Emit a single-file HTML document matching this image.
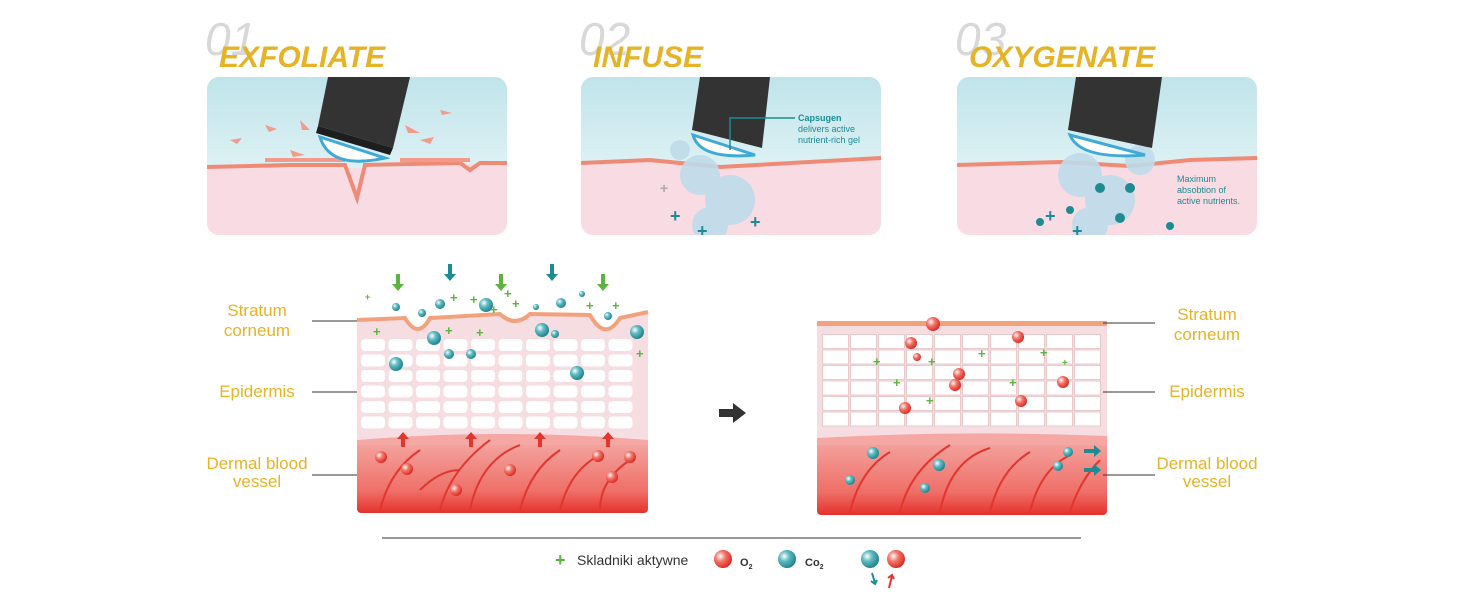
<!DOCTYPE html>
<html><head><meta charset="utf-8"><style>
html,body{margin:0;padding:0;background:#fff;}
body{width:1464px;height:600px;overflow:hidden;font-family:"Liberation Sans",sans-serif;}
</style></head><body>
<svg width="1464" height="600" viewBox="0 0 1464 600" xmlns="http://www.w3.org/2000/svg">
<defs>
<linearGradient id="sky" x1="0" y1="0" x2="0" y2="1"><stop offset="0" stop-color="#bfe4ea"/><stop offset="1" stop-color="#f4fbfc"/></linearGradient>
<linearGradient id="derm" x1="0" y1="0" x2="0" y2="1"><stop offset="0" stop-color="#f4a7a3"/><stop offset="0.7" stop-color="#ef6f68"/><stop offset="1" stop-color="#e5312c"/></linearGradient>
<radialGradient id="red" cx="0.35" cy="0.35" r="0.7"><stop offset="0" stop-color="#fff"/><stop offset="0.4" stop-color="#f4786c"/><stop offset="1" stop-color="#d9251c"/></radialGradient>
<radialGradient id="teal" cx="0.35" cy="0.35" r="0.7"><stop offset="0" stop-color="#fff"/><stop offset="0.4" stop-color="#5fbcc3"/><stop offset="1" stop-color="#1c7f89"/></radialGradient>
<pattern id="cells" x="360" y="338" width="27.5" height="15.5" patternUnits="userSpaceOnUse"><rect x="1" y="1" width="24" height="12" rx="4" fill="#fff"/></pattern>
<pattern id="grid" x="822" y="334" width="28" height="15.5" patternUnits="userSpaceOnUse"><rect x="0.5" y="0.5" width="26" height="14" fill="#fff" stroke="#e8c9cc"/></pattern>
<clipPath id="p1"><rect x="207" y="77" width="300" height="158" rx="12"/></clipPath>
<clipPath id="p2"><rect x="581" y="77" width="300" height="158" rx="12"/></clipPath>
<clipPath id="p3"><rect x="957" y="77" width="300" height="158" rx="12"/></clipPath>
</defs>

<!-- headers -->
<g font-family="Liberation Sans" font-style="italic">
<text x="205" y="55" font-size="46" fill="#d8d8d8" font-weight="300">01</text>
<text x="579" y="55" font-size="46" fill="#d8d8d8">02</text>
<text x="955" y="55" font-size="46" fill="#d8d8d8">03</text>
<g font-weight="bold" font-size="30" fill="#e5b325">
<text x="219" y="67">EXFOLIATE</text>
<text x="593" y="67">INFUSE</text>
<text x="969" y="67">OXYGENATE</text>
</g></g>

<!-- panel 1 -->
<g clip-path="url(#p1)">
<rect x="207" y="77" width="300" height="158" fill="url(#sky)"/>
<path d="M207 167 L290 165 L360 168 L500 163 L507 163 L507 235 L207 235Z" fill="#f8dbe3"/>
<path d="M207 167 L290 165 L345 165 L357 198 L365 165 L460 163 L470 170 L480 163 L507 163" fill="none" stroke="#ef8a76" stroke-width="4"/>
<g fill="#f39b8a"><path d="M265 125l12 4-8 3z"/><path d="M230 140l12-2-5 6z"/><path d="M290 150l15 5-12 2z"/><path d="M420 140l14-3-4 7z"/><path d="M440 110l12 3-10 2z"/><path d="M265 158h80v4h-80z"/><path d="M400 158h70v4h-70z"/><path d="M300 120l10 10-8 0z"/><path d="M405 125l15 8-12 0z"/></g>
<polygon points="328,77 410,77 393,148 318,126" fill="#333"/>
<polygon points="318,126 393,148 390,155 316,133" fill="#1e1e1e"/>
<path d="M320 137 Q330 170 385 158 L320 137Z" fill="#fff" stroke="#3fa9d8" stroke-width="3"/>
</g>

<!-- panel 2 -->
<g clip-path="url(#p2)">
<rect x="581" y="77" width="300" height="158" fill="url(#sky)"/>
<path d="M581 163 L650 160 L720 167 L881 158 L881 235 L581 235Z" fill="#f8dbe3"/>
<path d="M581 163 L650 160 L720 167 L881 158" fill="none" stroke="#ef8a76" stroke-width="4"/>
<g fill="#bfdbea" opacity="0.9"><circle cx="700" cy="175" r="20"/><circle cx="730" cy="200" r="25"/><circle cx="710" cy="225" r="18"/><circle cx="680" cy="150" r="10"/></g>
<polygon points="700,77 770,77 762,148 692,130" fill="#333"/>
<path d="M693 135 Q700 160 755 155 L693 135Z" fill="#fff" stroke="#3fa9d8" stroke-width="3"/>
<path d="M730 150 V118 H795" fill="none" stroke="#1d8b92" stroke-width="1.5"/>
<g font-size="9" fill="#1d8b92"><text x="798" y="121" font-weight="bold">Capsugen</text><text x="798" y="132">delivers active</text><text x="798" y="143">nutrient-rich gel</text></g>
<g fill="#1d8b92" font-weight="bold" font-size="18"><text x="670" y="222">+</text><text x="697" y="237">+</text><text x="750" y="228">+</text></g>
<text x="660" y="193" font-size="14" fill="#aaa" font-weight="bold">+</text>
</g>

<!-- panel 3 -->
<g clip-path="url(#p3)">
<rect x="957" y="77" width="300" height="158" fill="url(#sky)"/>
<path d="M957 165 L1060 162 L1130 166 L1190 160 L1257 158 L1257 235 L957 235Z" fill="#f8dbe3"/>
<path d="M957 165 L1060 162 L1130 166 L1190 160 L1257 158" fill="none" stroke="#ef8a76" stroke-width="4"/>
<g fill="#bfdbea" opacity="0.9"><circle cx="1080" cy="175" r="22"/><circle cx="1110" cy="200" r="25"/><circle cx="1090" cy="225" r="18"/><circle cx="1140" cy="160" r="15"/></g>
<polygon points="1076,77 1162,77 1152,148 1068,130" fill="#333"/>
<path d="M1070 135 Q1080 160 1145 155 L1070 135Z" fill="#fff" stroke="#3fa9d8" stroke-width="3"/>
<g fill="#1d8b92"><circle cx="1100" cy="188" r="5"/><circle cx="1130" cy="188" r="5"/><circle cx="1070" cy="210" r="4"/><circle cx="1120" cy="218" r="5"/><circle cx="1170" cy="226" r="4"/><circle cx="1040" cy="222" r="4"/></g>
<g fill="#1d8b92" font-weight="bold" font-size="18"><text x="1045" y="222">+</text><text x="1072" y="237">+</text></g>
<g font-size="9" fill="#1d8b92"><text x="1177" y="182">Maximum</text><text x="1177" y="193">absobtion of</text><text x="1177" y="204">active nutrients.</text></g>
</g>

<!-- left diagram -->
<rect x="357" y="440" width="291" height="73" rx="4" fill="url(#derm)"/>
<path d="M357 440 Q500 428 648 436 L648 445 L357 445Z" fill="#f4a7a3"/>
<path d="M357 320 L405 318 Q418 340 430 318 L500 314 Q515 328 530 314 L590 315 Q605 342 620 318 L648 312 L648 440 Q500 428 357 440Z" fill="#f5dde2"/>
<rect x="360" y="338" width="275" height="93" fill="url(#cells)"/>
<path d="M357 320 L405 318 Q418 340 430 318 L500 314 Q515 328 530 314 L590 315 Q605 342 620 318 L648 312" fill="none" stroke="#f1a17c" stroke-width="4"/>
<g stroke="#e0362e" stroke-width="2" fill="none"><path d="M380 510 Q390 470 420 450"/><path d="M440 510 Q450 470 490 440"/><path d="M470 510 Q480 460 520 445"/><path d="M520 510 Q530 470 560 450"/><path d="M560 510 Q570 470 600 455"/><path d="M600 510 Q600 480 630 460"/><path d="M420 490 Q440 470 460 470"/></g>
<g fill="#e0362e"><path d="M401 447h4v-8h4l-6-7-6 7h4z"/><path d="M469 447h4v-8h4l-6-7-6 7h4z"/><path d="M538 447h4v-8h4l-6-7-6 7h4z"/><path d="M606 447h4v-8h4l-6-7-6 7h4z"/></g>
<g fill="url(#red)"><circle cx="381" cy="457" r="6"/><circle cx="407" cy="469" r="6"/><circle cx="456" cy="490" r="6"/><circle cx="510" cy="470" r="6"/><circle cx="598" cy="456" r="6"/><circle cx="630" cy="457" r="6"/><circle cx="612" cy="477" r="6"/></g>
<g fill="url(#teal)"><circle cx="396" cy="364" r="7"/><circle cx="434" cy="338" r="7"/><circle cx="440" cy="304" r="5"/><circle cx="486" cy="305" r="7"/><circle cx="471" cy="354" r="5"/><circle cx="449" cy="354" r="5"/><circle cx="542" cy="330" r="7"/><circle cx="561" cy="303" r="5"/><circle cx="577" cy="373" r="7"/><circle cx="637" cy="332" r="7"/><circle cx="396" cy="307" r="4"/><circle cx="422" cy="313" r="4"/><circle cx="536" cy="307" r="3"/><circle cx="582" cy="294" r="3"/><circle cx="555" cy="334" r="4"/><circle cx="608" cy="316" r="4"/></g>
<g fill="#1d8b92"><path d="M448 264h4v10h4l-6 7-6-7h4z"/><path d="M550 264h4v10h4l-6 7-6-7h4z"/></g>
<g fill="#5cb33d"><path d="M396 274h4v10h4l-6 7-6-7h4z"/><path d="M499 274h4v10h4l-6 7-6-7h4z"/><path d="M601 274h4v10h4l-6 7-6-7h4z"/></g>
<g fill="#5cb33d" font-weight="bold" font-size="13"><text x="450" y="302">+</text><text x="470" y="304">+</text><text x="504" y="298">+</text><text x="512" y="308">+</text><text x="490" y="314">+</text><text x="586" y="310">+</text><text x="612" y="310">+</text><text x="373" y="336">+</text><text x="445" y="335">+</text><text x="476" y="337">+</text><text x="636" y="358">+</text><text x="365" y="300" font-size="9">+</text></g>

<!-- right diagram -->
<rect x="817" y="438" width="290" height="77" rx="4" fill="url(#derm)"/>
<rect x="817" y="323" width="290" height="118" fill="#f5dde2"/>
<path d="M817 438 Q960 430 1107 436 L1107 445 L817 445Z" fill="#f4a7a3"/>
<rect x="822" y="334" width="280" height="93" fill="url(#grid)"/>
<rect x="817" y="321" width="290" height="5" fill="#f1a17c"/>
<g stroke="#e0362e" stroke-width="2" fill="none"><path d="M850 512 Q860 470 890 452"/><path d="M900 512 Q910 470 950 445"/><path d="M940 512 Q950 460 990 448"/><path d="M990 512 Q1000 470 1030 452"/><path d="M1030 512 Q1040 470 1070 455"/><path d="M1070 512 Q1080 480 1100 460"/></g>
<g fill="url(#red)"><circle cx="933" cy="324" r="7"/><circle cx="911" cy="343" r="6"/><circle cx="1018" cy="337" r="6"/><circle cx="959" cy="374" r="6"/><circle cx="955" cy="385" r="6"/><circle cx="1063" cy="382" r="6"/><circle cx="1021" cy="401" r="6"/><circle cx="905" cy="408" r="6"/><circle cx="917" cy="357" r="4"/></g>
<g fill="url(#teal)"><circle cx="873" cy="453" r="6"/><circle cx="939" cy="465" r="6"/><circle cx="850" cy="480" r="5"/><circle cx="925" cy="488" r="5"/><circle cx="1068" cy="452" r="5"/><circle cx="1058" cy="466" r="5"/></g>
<g fill="#1d8b92"><path d="M1084 449h10v-4l7 6-7 6v-4h-10z"/><path d="M1084 468h10v-4l7 6-7 6v-4h-10z"/></g>
<g fill="#5cb33d" font-weight="bold" font-size="13"><text x="873" y="366">+</text><text x="928" y="366">+</text><text x="978" y="358">+</text><text x="1040" y="357">+</text><text x="893" y="387">+</text><text x="926" y="405">+</text><text x="1009" y="387">+</text><text x="1062" y="366" font-size="10">+</text></g>

<!-- labels -->
<g font-size="17" fill="#e5b325" text-anchor="middle">
<text x="257" y="316">Stratum</text><text x="257" y="336">corneum</text>
<text x="257" y="397">Epidermis</text>
<text x="257" y="469">Dermal blood</text><text x="257" y="487">vessel</text>
<text x="1207" y="320">Stratum</text><text x="1207" y="340">corneum</text>
<text x="1207" y="397">Epidermis</text>
<text x="1207" y="469">Dermal blood</text><text x="1207" y="487">vessel</text>
</g>
<g stroke="#333" stroke-width="1">
<line x1="312" y1="321" x2="357" y2="321"/><line x1="312" y1="392" x2="357" y2="392"/><line x1="312" y1="475" x2="357" y2="475"/>
<line x1="1103" y1="323" x2="1155" y2="323"/><line x1="1103" y1="392" x2="1155" y2="392"/><line x1="1103" y1="475" x2="1155" y2="475"/>
<line x1="382" y1="538" x2="1081" y2="538"/>
</g>
<path d="M719 409h14v-6l13 10-13 10v-6h-14z" fill="#333"/>

<!-- legend -->
<g fill="#5cb33d" font-weight="bold" font-size="18"><text x="555" y="566">+</text></g>
<text x="577" y="565" font-size="14" fill="#333">Skladniki aktywne</text>
<circle cx="723" cy="559" r="9" fill="url(#red)"/>
<text x="740" y="566" font-size="11" fill="#333" font-weight="bold">O<tspan font-size="7" dy="3">2</tspan></text>
<circle cx="787" cy="559" r="9" fill="url(#teal)"/>
<text x="805" y="566" font-size="11" fill="#333" font-weight="bold">Co<tspan font-size="7" dy="3">2</tspan></text>
<circle cx="870" cy="559" r="9" fill="url(#teal)"/>
<circle cx="896" cy="559" r="9" fill="url(#red)"/>
<path d="M872 573 l3 10 m-4 -2 l4 3 l2 -4" stroke="#1d8b92" stroke-width="2" fill="none"/>
<path d="M889 588 l3 -12 m-4 2 l4 -3 l2 4" stroke="#e0362e" stroke-width="2" fill="none"/>
</svg>
</body></html>
